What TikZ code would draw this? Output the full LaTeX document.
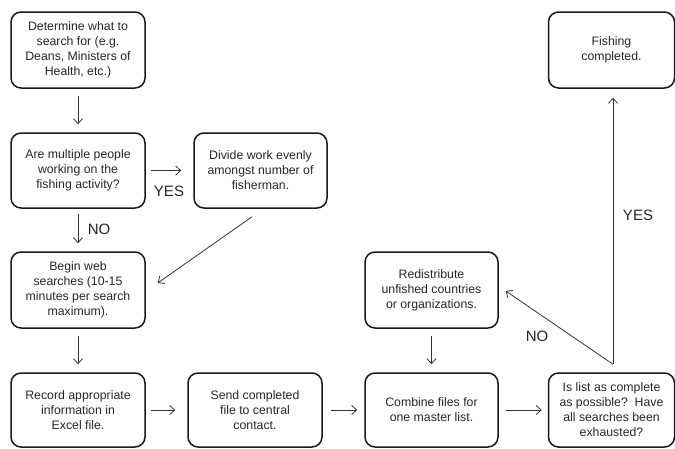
\documentclass[tikz,border=0pt]{standalone}
\usepackage{fontspec}
\setmainfont{Liberation Sans}
\usetikzlibrary{arrows.meta,calc}
\begin{document}
\begin{tikzpicture}[x=1pt,y=-1pt,
  box/.style={draw=black!90,line width=1.5pt,rounded corners=10pt,align=center,
    font=\fontsize{12.3}{15}\selectfont,text=black!85,inner sep=0pt},
  arr/.style={draw=black!80,line width=0.8pt,-{Straight Barb[length=5pt,width=9pt]}},
  lbl/.style={font=\fontsize{15}{18}\selectfont,text=black!85}]
\useasboundingbox (0,0) rectangle (675,448);
\node[box,minimum width=134pt,minimum height=76pt] (b1) at (78,50) {Determine what to\\search for (e.g.\\Deans, Ministers of\\Health, etc.)};
\node[box,minimum width=134pt,minimum height=75pt] (b2) at (78,170.5) {Are multiple people\\working on the\\fishing activity?};
\node[box,minimum width=133pt,minimum height=75pt] (b3) at (260.5,170.5) {Divide work evenly\\amongst number of\\fisherman.};
\node[box,minimum width=134pt,minimum height=76pt] (b4) at (78,290) {Begin web\\searches (10-15\\minutes per search\\maximum).};
\node[box,minimum width=134pt,minimum height=74pt] (b5) at (78,410) {Record appropriate\\information in\\Excel file.};
\node[box,minimum width=134pt,minimum height=74pt] (b6) at (255,410) {Send completed\\file to central\\contact.};
\node[box,minimum width=133pt,minimum height=76pt] (b7) at (431.5,290) {Redistribute\\unfished countries\\or organizations.};
\node[box,minimum width=133pt,minimum height=74pt] (b8) at (431.5,410) {Combine files for\\one master list.};
\node[box,minimum width=126pt,minimum height=74pt] (b9) at (611.5,410) {Is list as complete\\as possible?\ \ Have\\all searches been\\exhausted?};
\node[box,minimum width=126pt,minimum height=76pt] (b10) at (611.5,50) {Fishing\\completed.};

\draw[arr,shorten <=7pt,shorten >=8pt] (b1.south) -- (b2.north);
\draw[arr,shorten <=5pt,shorten >=12pt] (b2.east) -- (b3.west);
\draw[arr,shorten <=5pt,shorten >=8pt] (b2.south) -- (b4.north);
\draw[arr] ($(b3.south)+(-8.5,8)$) -- ($(b4.east)+(12,-7)$);
\draw[arr,shorten <=7pt,shorten >=8pt] (b4.south) -- (b5.north);
\draw[arr,shorten <=5pt,shorten >=12pt] (b5.east) -- (b6.west);
\draw[arr,shorten <=8pt,shorten >=7pt] (b6.east) -- (b8.west);
\draw[arr,shorten <=7pt,shorten >=8pt] (b7.south) -- (b8.north);
\draw[arr,shorten <=7pt,shorten >=6pt] (b8.east) -- (b9.west);
\coordinate (split) at ($(b9.north)+(1.5,-8)$);
\draw[arr] (split) -- ($(b7.east)+(7,1)$);
\draw[arr] (split) -- ($(b10.south)+(1.5,9)$);

\node[lbl] (yes1) at (169,191) {YES};
\node[lbl] (no1) at (99,229) {NO};
\node[lbl] (no2) at (537,336) {NO};
\node[lbl] (yes2) at (638,215) {YES};
\end{tikzpicture}
\end{document}
